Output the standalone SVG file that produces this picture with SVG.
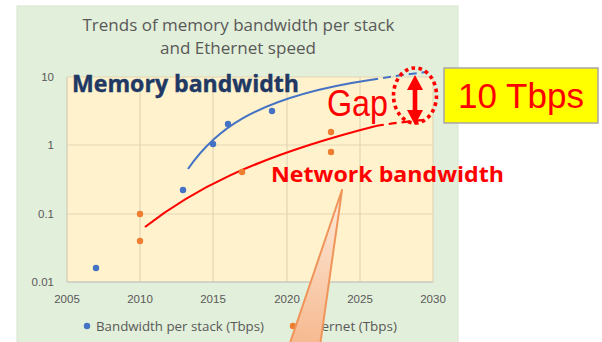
<svg xmlns="http://www.w3.org/2000/svg" width="602" height="342" viewBox="0 0 602 342">
<defs>
<style>
.tick{font-family:"Liberation Sans",Arial,sans-serif;font-size:11.5px;fill:#595959}
.grid{stroke:#E3D6B4;stroke-width:1.2}
.bdot{fill:#4472C4}
.odot{fill:#ED7D31}
.lbl{font-family:"Open Sans","Liberation Sans",sans-serif;font-weight:bold}
</style>
<linearGradient id="wedge" x1="0" y1="0" x2="0" y2="1">
<stop offset="0" stop-color="#FDEBDD"/>
<stop offset="1" stop-color="#F6B98F"/>
</linearGradient>
</defs>
<rect width="602" height="342" fill="#FFFFFF"/>
<g id="panel">
<rect x="17" y="6" width="441" height="340" fill="#E2EFDA" stroke="#D9E4D2" stroke-width="1"/>
<rect x="67" y="77" width="366" height="205" fill="#FFF2CC"/>
</g>
<g id="title" font-family="'Open Sans','Liberation Sans',sans-serif" font-size="15.5" fill="#595959" text-anchor="middle">
<text x="238.5" y="31" textLength="312" lengthAdjust="spacingAndGlyphs">Trends of memory bandwidth per stack</text>
<text x="238" y="54" textLength="156" lengthAdjust="spacingAndGlyphs">and Ethernet speed</text>
</g>
<g id="gridlines">
<line class="grid" x1="67" y1="77" x2="433" y2="77"/>
<line class="grid" x1="67" y1="145" x2="433" y2="145"/>
<line class="grid" x1="67" y1="214" x2="433" y2="214"/>
<line class="grid" x1="140" y1="77" x2="140" y2="282"/>
<line class="grid" x1="213" y1="77" x2="213" y2="282"/>
<line class="grid" x1="287" y1="77" x2="287" y2="282"/>
<line class="grid" x1="360" y1="77" x2="360" y2="282"/>
<line class="grid" x1="433" y1="77" x2="433" y2="282"/>
<line x1="67" y1="77" x2="67" y2="282" stroke="#D0CBB8" stroke-width="1.2"/>
<line x1="67" y1="282" x2="433" y2="282" stroke="#C8C8C0" stroke-width="1.5"/>
</g>
<g id="y-axis" text-anchor="end">
<text class="tick" x="54" y="81">10</text>
<text class="tick" x="54" y="149">1</text>
<text class="tick" x="54" y="218">0.1</text>
<text class="tick" x="54" y="286">0.01</text>
</g>
<g id="x-axis" text-anchor="middle">
<text class="tick" x="67" y="303">2005</text>
<text class="tick" x="140" y="303">2010</text>
<text class="tick" x="213" y="303">2015</text>
<text class="tick" x="287" y="303">2020</text>
<text class="tick" x="360" y="303">2025</text>
<text class="tick" x="433" y="303">2030</text>
</g>
<g id="connectors" fill="none">
<path d="M188,169 C212,134 250,98 370,80" stroke="#4472C4" stroke-width="2"/>
<path d="M370,80 Q400,75 427,72" stroke="#4472C4" stroke-width="2" stroke-dasharray="8,5"/>
<path d="M145,227 C190,192 250,158 376,126" stroke="#FF0000" stroke-width="2.2"/>
<path d="M376,126 Q400,122 425,120" stroke="#FF0000" stroke-width="2.2" stroke-dasharray="8,5"/>
</g>
<g id="series-memory">
<circle class="bdot" cx="96" cy="268" r="3.2"/>
<circle class="bdot" cx="183" cy="190" r="3.2"/>
<circle class="bdot" cx="213" cy="144" r="3.2"/>
<circle class="bdot" cx="228" cy="124" r="3.2"/>
<circle class="bdot" cx="272" cy="111" r="3.2"/>
</g>
<g id="series-ethernet">
<circle class="odot" cx="140" cy="214" r="3.2"/>
<circle class="odot" cx="140" cy="241" r="3.2"/>
<circle class="odot" cx="242" cy="172" r="3.2"/>
<circle class="odot" cx="331" cy="132" r="3.2"/>
<circle class="odot" cx="331" cy="152" r="3.2"/>
</g>
<g id="legend" font-family="'Open Sans','Liberation Sans',sans-serif" font-size="13" fill="#595959">
<circle class="bdot" cx="87" cy="326" r="3.2"/>
<text x="96" y="330.5" textLength="168" lengthAdjust="spacingAndGlyphs">Bandwidth per stack (Tbps)</text>
<circle class="odot" cx="293" cy="326" r="3.2"/>
<text x="301" y="330.5" textLength="96" lengthAdjust="spacingAndGlyphs">Ethernet (Tbps)</text>
</g>
<g id="label-memory">
<text class="lbl" x="72" y="92" font-size="22.5" fill="#203864" stroke="#203864" stroke-width="0.4" textLength="227" lengthAdjust="spacingAndGlyphs">Memory bandwidth</text>
</g>
<g id="label-network">
<text class="lbl" x="271" y="182" font-size="22" fill="#FF0000" textLength="233" lengthAdjust="spacingAndGlyphs">Network bandwidth</text>
</g>
<g id="callout">
<path d="M342,190 L289,346 L320,346 Z" fill="url(#wedge)" stroke="#F0955A" stroke-width="2" stroke-linejoin="round"/>
</g>
<g id="gap">
<text x="327" y="116" font-family="'Liberation Sans',Arial,sans-serif" font-size="36" fill="#FF0000" textLength="61" lengthAdjust="spacingAndGlyphs">Gap</text>
<ellipse cx="415" cy="95.5" rx="21.5" ry="27.5" fill="none" stroke="#FF0000" stroke-width="3.6" stroke-dasharray="3.6,3.4"/>
<path d="M415,75 L423,90 L417.3,90 L417.3,110 L423,110 L415,125 L407,110 L412.7,110 L412.7,90 L407,90 Z" fill="#FF0000"/>
</g>
<g id="value-box">
<rect x="444" y="68" width="154" height="55" fill="#FFFF00" stroke="#A6A6A6" stroke-width="1.5"/>
<text x="521" y="108" text-anchor="middle" font-family="'Liberation Sans',Arial,sans-serif" font-size="35" fill="#FF0000">10 Tbps</text>
</g>
</svg>
